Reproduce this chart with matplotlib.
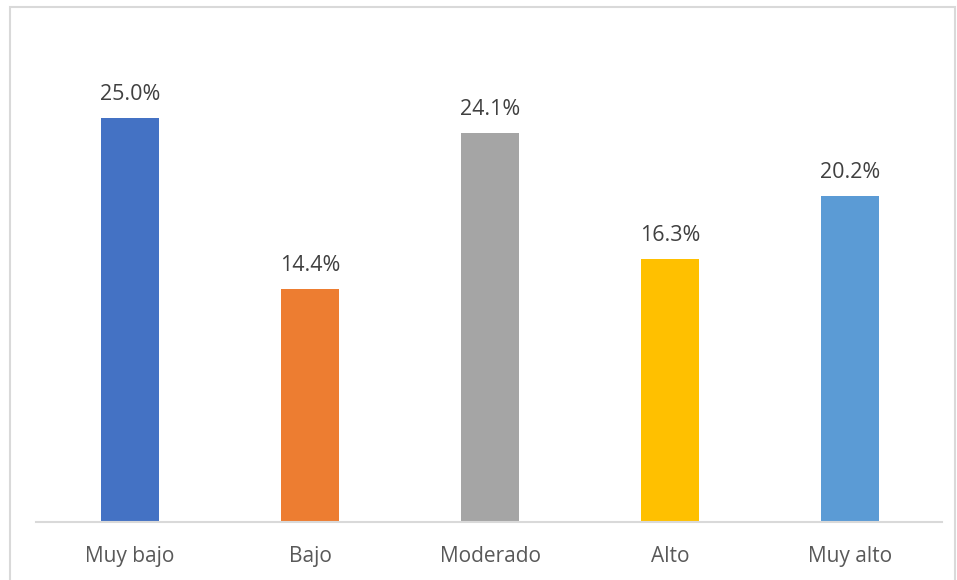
import matplotlib.pyplot as plt
from matplotlib.patches import Rectangle

categories = ['Muy bajo', 'Bajo', 'Moderado', 'Alto', 'Muy alto']
values = [25.0, 14.4, 24.1, 16.3, 20.2]
colors = ['#4472C4', '#ED7D31', '#A5A5A5', '#FFC000', '#5B9BD5']

plt.rcParams['font.family'] = ['Open Sans', 'DejaVu Sans']

W, H = 957, 580
fig = plt.figure(figsize=(W / 100, H / 100), dpi=100)

# light gray chart frame (bottom edge falls outside the image)
fig.patches.append(Rectangle((10 / W, -0.05), 945 / W, (H - 7) / H + 0.05,
                             transform=fig.transFigure, fill=False,
                             edgecolor='#D9D9D9', linewidth=1.5))

ax = fig.add_axes([40 / W, (H - 522) / H, 900 / W, (522 - 20) / H])
x = range(len(categories))
ax.bar(x, values, width=0.317, color=colors)
for xi, v in zip(x, values):
    ax.text(xi, v + 0.8, f'{v:.1f}%', ha='center', va='bottom',
            fontsize=15.5, color='#404040')

ax.set_xlim(-0.5, len(categories) - 0.5)
ax.set_ylim(0, 502 / 16.16)
ax.set_xticks(list(x))
ax.set_xticklabels(categories, fontsize=15, color='#595959')
ax.tick_params(axis='x', length=0, pad=17)
ax.set_yticks([])
for s in ['top', 'right', 'left']:
    ax.spines[s].set_visible(False)
ax.spines['bottom'].set_color('#D9D9D9')
ax.spines['bottom'].set_linewidth(1.5)
ax.spines['bottom'].set_bounds(-0.52, 4.51)

fig.savefig('out.png', dpi=100)
